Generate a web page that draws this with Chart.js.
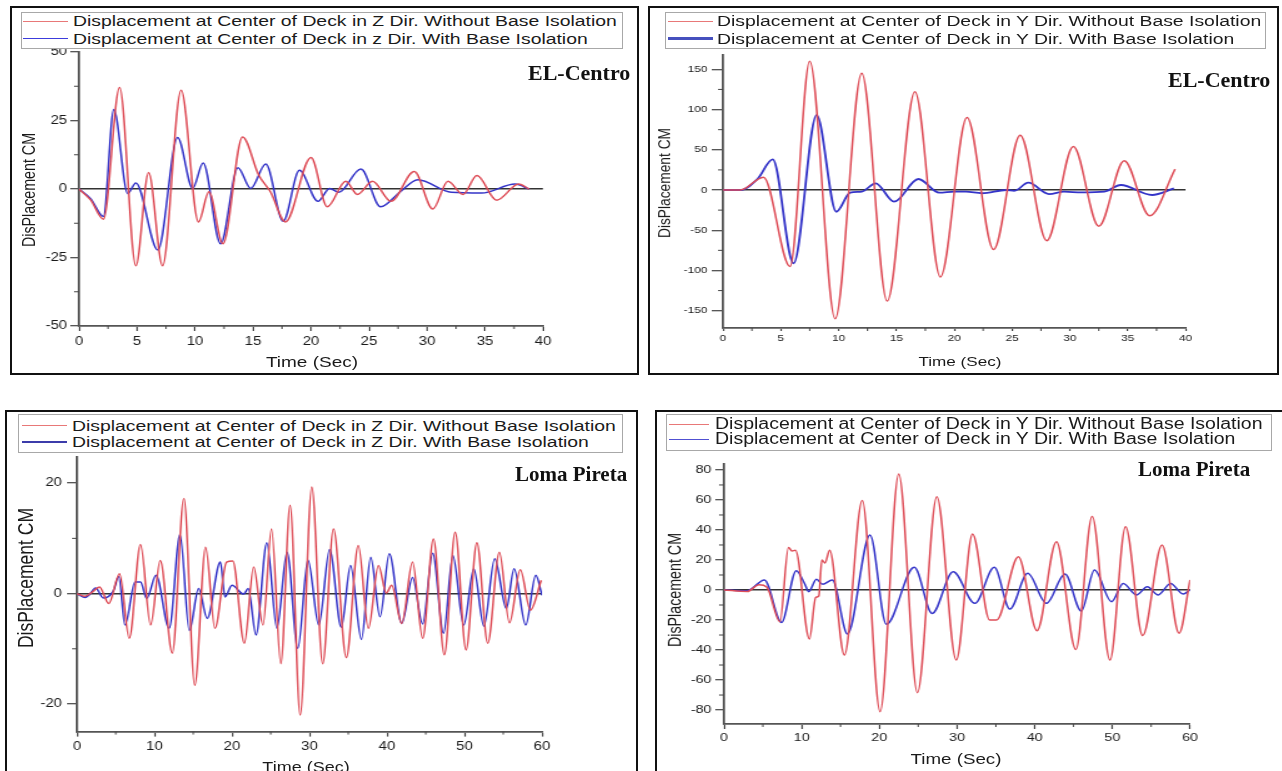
<!DOCTYPE html>
<html><head><meta charset="utf-8">
<script src="https://cdn.jsdelivr.net/npm/chart.js@4.4.1/dist/chart.umd.min.js"></script>
<style>
html,body{margin:0;padding:0;}
body{width:1282px;height:771px;background:#fff;position:relative;overflow:hidden;font-family:"Liberation Sans",Arial,sans-serif;}
.frame{position:absolute;border:2.5px solid #111;box-sizing:border-box;}
.legend{position:absolute;border:1px solid #a8a8a8;box-sizing:border-box;background:#fff;}
.ttl{position:absolute;font-family:"Liberation Serif","Times New Roman",serif;font-weight:bold;color:#111;white-space:nowrap;line-height:1;}
</style>
</head><body>
<script>
// ---------------- DATA ----------------
// Panel 1: EL-Centro, Z direction
const elZ_tWithout = [0, 1.0, 2.1, 3.5, 4.9, 6.0, 7.2, 8.8, 10.3, 11.2, 12.4, 14.1, 15.5, 16.5, 17.8, 20.0, 21.4, 23.0, 24.0, 25.3, 26.9, 28.9, 30.5, 31.8, 33.1, 34.3, 36.0, 37.9, 38.8];
const elZ_without  = [0, -4, -11, 37, -28, 6, -28, 36, -12, -1, -20, 19, 5, -1, -12, 11.5, -6.5, 2.8, -2, 2.8, -4.5, 6.4, -7.3, 2.8, -2, 4.9, -4.1, 1.8, 0];
const elZ_tWith    = [0, 1.0, 2.1, 3.0, 4.2, 4.9, 6.8, 8.5, 9.8, 10.7, 12.2, 13.7, 14.8, 16.1, 17.6, 19.0, 20.6, 21.6, 22.4, 24.3, 26.0, 27.7, 29.2, 32.1, 34.7, 37.6, 38.8];
const elZ_with     = [0, -3.5, -10, 29, -1.7, 2.2, -22.3, 18.8, 0.2, 9.5, -20, 7.8, 0.2, 9.1, -11.8, 6.8, -4.5, 0.2, -1.2, 7.3, -6.5, -1, 3.4, -1.2, -1.5, 1.8, 0];
const elZ_xTicks = [0, 5, 10, 15, 20, 25, 30, 35, 40];
const elZ_xMinor = [2.5, 7.5, 12.5, 17.5, 22.5, 27.5, 32.5, 37.5];
const elZ_yTicks = [-50, -25, 0, 25, 50];
const elZ_yMinor = [-37.5, -12.5, 12.5, 37.5];

// Panel 2: EL-Centro, Y direction
const elY_tWithout = [0, 1.5, 3.5, 5.8, 7.5, 9.7, 12.0, 14.2, 16.6, 18.8, 21.1, 23.4, 25.7, 28.0, 30.3, 32.5, 34.7, 36.9, 39.1];
const elY_without  = [0, 0, 16, -95, 160, -160, 145, -138, 122, -108, 90, -74, 68, -63, 54, -45, 36.5, -32, 26];
const elY_tWith    = [0, 1.5, 3.0, 4.3, 6.1, 8.1, 9.8, 11.0, 12.0, 13.2, 14.8, 16.9, 18.7, 20.0, 21.0, 22.4, 24.5, 25.2, 26.4, 28.2, 29.5, 31.0, 33.0, 34.4, 37.1, 39.0];
const elY_with     = [0, 0, 14, 38, -91, 93, -27, -3.3, -2, 8.3, -14.5, 13.7, -3.3, -2, -2, -4, 0, -1, 9.1, -5, -2, -3, -2, 6.2, -6.2, 2];
const elY_xTicks = [0, 5, 10, 15, 20, 25, 30, 35, 40];
const elY_xMinor = [2.5, 7.5, 12.5, 17.5, 22.5, 27.5, 32.5, 37.5];
const elY_yTicks = [-150, -100, -50, 0, 50, 100, 150];
const elY_yMinor = [-125, -75, -25, 25, 75, 125];

// Panel 3: Loma Pireta, Z direction
const lpZ_tWithout = [0, 1.0, 2.0, 2.9, 4.1, 5.5, 6.75, 8.2, 9.5, 10.75, 12.3, 13.8, 15.2, 16.6, 17.8, 19.3, 20.1, 21.6, 22.8, 24.0, 25.1, 26.3, 27.5, 28.8, 30.3, 31.7, 33.1, 34.75, 36.3, 37.6, 38.9, 39.9, 40.6, 41.9, 43.3, 44.6, 46.0, 47.4, 48.8, 50.2, 51.6, 53.0, 54.5, 55.8, 57.2, 58.5, 59.9];
const lpZ_without  = [0, -0.5, 0.3, 1.2, -1.8, 3.6, -8.1, 8.9, -5.7, 6.0, -10.8, 17.2, -16.6, 8.4, -6.3, 5.7, 5.9, -9.0, 4.8, -5.7, 11.7, -12.7, 16.0, -22.0, 19.3, -12.7, 11.7, -11.6, 8.7, -6.3, 5.1, 0.1, 1.5, -5.4, 5.7, -8.1, 9.9, -11.1, 11.1, -10.2, 9.2, -9.0, 7.5, -5.3, 4.3, -3.0, 2.4];
const lpZ_tWith    = [0, 1.0, 1.6, 2.4, 3.4, 4.7, 5.4, 6.2, 7.5, 8.2, 9.0, 10.2, 11.9, 13.3, 14.5, 15.7, 16.8, 18.5, 19.1, 20.0, 21.5, 22.1, 23.1, 24.5, 25.8, 27.1, 28.5, 29.8, 31.2, 32.6, 34.1, 35.3, 36.7, 37.9, 39.1, 40.3, 41.9, 43.3, 44.6, 45.9, 47.3, 48.5, 49.9, 51.2, 52.5, 53.9, 55.4, 56.4, 57.9, 59.2, 60];
const lpZ_with     = [0, -0.7, -0.2, 1.0, -0.8, 0.5, 3.1, -5.7, 2.1, 2.1, -0.9, 3.3, -6.3, 10.7, -6.7, 0.9, -4.5, 5.7, -0.6, 1.5, -0.1, 0.9, -7.5, 9.2, -6.3, 7.5, -9.9, 6.1, -5.7, 8.0, -6.1, 5.1, -8.3, 6.6, -4.2, 7.2, -5.4, 2.9, -5.5, 7.3, -7.2, 6.9, -5.7, 4.5, -5.9, 6.3, -2.7, 4.5, -5.7, 3.3, -0.3];
const lpZ_xTicks = [0, 10, 20, 30, 40, 50, 60];
const lpZ_xMinor = [5, 15, 25, 35, 45, 55];
const lpZ_yTicks = [-20, 0, 20];
const lpZ_yMinor = [-10, 10];

// Panel 4: Loma Pireta, Y direction
const lpY_tWithout = [0, 3.0, 4.5, 5.5, 7.2, 8.3, 8.75, 9.2, 11.0, 11.8, 12.2, 12.6, 13.0, 13.6, 15.5, 17.8, 20.1, 22.5, 24.9, 27.4, 29.9, 32.0, 34.2, 35.1, 37.9, 40.3, 42.8, 45.3, 47.4, 49.7, 51.7, 53.9, 56.4, 58.6, 60];
const lpY_without  = [0, -1, 3.5, 2, -21.1, 28.4, 26, 26.5, -32.7, -5, -4, 20, 18, 26.5, -43.3, 59.6, -81.1, 77.3, -68.4, 62.2, -46.7, 37.3, -20, -20, 22.2, -27.1, 32.2, -39.6, 48.9, -46.7, 42.2, -30.4, 30, -28.9, 6.7];
const lpY_tWith    = [0, 3.0, 5.2, 7.4, 9.3, 10.4, 10.9, 11.9, 12.7, 13.95, 15.9, 18.8, 20.9, 24.5, 26.8, 29.5, 32.3, 34.8, 36.8, 39.1, 41.5, 43.9, 46.0, 47.7, 49.9, 51.4, 53.1, 54.5, 55.9, 57.5, 59.1, 60];
const lpY_with     = [0, -0.5, 6.7, -21.6, 12.9, 4, -1.1, 7.1, 3.8, 6.7, -29.3, 36.7, -22.9, 15.1, -15.6, 12.2, -8.9, 15.1, -12.7, 11.1, -8.9, 10.7, -14, 13.3, -7.8, 4.4, -3.3, 2.2, -3.3, 4.4, -2.7, 0];
const lpY_xTicks = [0, 10, 20, 30, 40, 50, 60];
const lpY_xMinor = [5, 15, 25, 35, 45, 55];
const lpY_yTicks = [-80, -60, -40, -20, 0, 20, 40, 60, 80];
const lpY_yMinor = [-70, -50, -30, -10, 10, 30, 50, 70];

// Texts
const legendZ1 = ["Displacement at Center of Deck in Z Dir. Without Base Isolation", "Displacement at Center of Deck in z Dir. With Base Isolation"];
const legendY1 = ["Displacement at Center of Deck in Y Dir. Without Base Isolation", "Displacement at Center of Deck in Y Dir. With Base Isolation"];
const legendZ2 = ["Displacement at Center of Deck in Z Dir. Without Base Isolation", "Displacement at Center of Deck in Z Dir. With Base Isolation"];
const legendY2 = ["Displacement at Center of Deck in Y Dir. Without Base Isolation", "Displacement at Center of Deck in Y Dir. With Base Isolation"];
const yTitle = "DisPlacement CM";
const xTitle = "Time (Sec)";

// ---------------- RENDER ----------------
const S = 1.25; // horizontal stretch of the original figure
const FONT = '"Liberation Sans", Arial, Helvetica, sans-serif';
const RED = 'rgb(222,78,88)';
const BLUE = 'rgb(52,52,200)';
Chart.defaults.font.family = FONT;

const pts = (t, v) => t.map((x, i) => ({x: x, y: v[i]}));

const minorTicks = {
  id: 'minorTicks',
  afterDraw(chart, args, opts) {
    const ctx = chart.ctx, xs = chart.scales.x, ys = chart.scales.y;
    ctx.save();
    ctx.strokeStyle = '#444';
    ctx.lineWidth = 1;
    ctx.beginPath();
    (opts.x || []).forEach(v => { const p = xs.getPixelForValue(v); ctx.moveTo(p, xs.top); ctx.lineTo(p, xs.top + (opts.xl || 3)); });
    (opts.y || []).forEach(v => { const p = ys.getPixelForValue(v); ctx.moveTo(ys.right, p); ctx.lineTo(ys.right - (opts.yl || 4), p); });
    ctx.stroke();
    ctx.restore();
  }
};

function makePanel(p) {
  const yw = 40, xh = 28, pt = 10;
  const CL = p.L - yw * S;
  const plotW = (p.R - p.L) / S;
  const CW = Math.ceil(plotW + yw + 18);
  const pr = CW - yw - plotW;
  const CT = Math.floor(p.T - pt);
  const ptop = p.T - CT;
  const CH = Math.ceil(p.B - p.T + ptop + xh);
  const pb = CH - (p.B - CT) - xh;
  const c = document.createElement('canvas');
  c.width = CW; c.height = CH;
  c.style.cssText = `position:absolute;left:${CL}px;top:${CT}px;width:${CW}px;height:${CH}px;transform:scaleX(${S});transform-origin:0 0;`;
  document.body.appendChild(c);
  new Chart(c, {
    type: 'line',
    data: { datasets: [
      { data: pts(p.tA, p.vA), borderColor: RED, borderWidth: 1.5, pointRadius: 0, cubicInterpolationMode: 'monotone', fill: false },
      { data: pts(p.tB, p.vB), borderColor: BLUE, borderWidth: p.blueW || 1.5, pointRadius: 0, cubicInterpolationMode: 'monotone', fill: false }
    ]},
    options: {
      responsive: false, animation: false, devicePixelRatio: 1,
      layout: { padding: { left: 0, right: pr, top: ptop, bottom: pb } },
      plugins: { legend: { display: false }, tooltip: { enabled: false },
                 minorTicks: { x: p.xMinor, y: p.yMinor, xl: 3, yl: 4 } },
      scales: {
        x: { type: 'linear', min: p.xMin, max: p.xMax,
             afterBuildTicks: s => { s.ticks = p.xTicks.map(v => ({value: v})); },
             afterFit: s => { s.height = xh; },
             ticks: { autoSkip: false, maxRotation: 0, padding: p.xPad, color: '#1a1a1a', font: { size: p.fs } },
             grid: { drawOnChartArea: false, drawTicks: true, tickLength: p.xTl, tickColor: '#444', tickWidth: 1.2 },
             border: { display: true, color: '#555', width: 1.8 } },
        y: { type: 'linear', min: p.yMin, max: p.yMax,
             afterBuildTicks: s => { s.ticks = p.yTicks.map(v => ({value: v})); },
             afterFit: s => { s.width = yw; },
             ticks: { autoSkip: false, padding: p.yPad, color: '#1a1a1a', font: { size: p.fs } },
             grid: { drawOnChartArea: true, color: ctx => (ctx.tick && ctx.tick.value === 0) ? '#333' : 'rgba(0,0,0,0)',
                     lineWidth: 1.4, drawTicks: true, tickLength: p.yTl, tickColor: '#444', tickWidth: 1.2 },
             border: { display: true, color: '#555', width: 1.8 } }
      }
    },
    plugins: [minorTicks]
  });
}

function addFrame(l, t, r, b) {
  const d = document.createElement('div'); d.className = 'frame';
  d.style.left = l + 'px'; d.style.top = t + 'px'; d.style.width = (r - l) + 'px'; d.style.height = (b - t) + 'px';
  document.body.appendChild(d);
}
function addText(txt, x, y, size, mode, extra) {
  const a = document.createElement('div');
  a.style.cssText = `position:absolute;left:${x}px;top:${y}px;width:0;height:0;`;
  const s = document.createElement('span'); s.textContent = txt;
  let tr;
  if (mode === 'left') tr = `scaleX(${S}) translateY(-50%)`;
  else if (mode === 'center') tr = `scaleX(${S}) translate(-50%,-50%)`;
  else tr = `scaleX(${S}) rotate(-90deg) translate(-50%,-50%)`;
  s.style.cssText = `position:absolute;left:0;top:0;white-space:nowrap;line-height:1;color:#1a1a1a;font-size:${size}px;transform-origin:0 0;transform:${tr};${extra || ''}`;
  a.appendChild(s); document.body.appendChild(a);
}
function addLegend(box, rows, lineX, textX, texts, fs, styles) {
  const d = document.createElement('div'); d.className = 'legend';
  d.style.left = box[0] + 'px'; d.style.top = box[1] + 'px'; d.style.width = (box[2] - box[0]) + 'px'; d.style.height = (box[3] - box[1]) + 'px';
  document.body.appendChild(d);
  rows.forEach((ry, i) => {
    const ln = document.createElement('div');
    const w = styles[i].w;
    ln.style.cssText = `position:absolute;left:${lineX[0]}px;top:${ry - w / 2}px;width:${lineX[1] - lineX[0]}px;height:${w}px;background:${styles[i].c};`;
    document.body.appendChild(ln);
    addText(texts[i], textX, ry, fs, 'left');
  });
}
function addTitle(txt, left, baseline, size) {
  const d = document.createElement('div'); d.className = 'ttl'; d.textContent = txt;
  d.style.fontSize = size + 'px'; d.style.left = left + 'px'; d.style.top = (baseline - 0.8375 * size) + 'px';
  document.body.appendChild(d);
}

// Panels (chart-area corners in page pixels)
makePanel({ L: 79, R: 543, T: 52, B: 326, xMin: 0, xMax: 40, yMin: -50, yMax: 50,
  xTicks: elZ_xTicks, xMinor: elZ_xMinor, yTicks: elZ_yTicks, yMinor: elZ_yMinor,
  tA: elZ_tWithout, vA: elZ_without, tB: elZ_tWith, vB: elZ_with,
  fs: 12, xTl: 5, xPad: 3, yTl: 7, yPad: 2.5 });
makePanel({ L: 722.5, R: 1185, T: 55, B: 328, xMin: 0, xMax: 40, yMin: -171.5, yMax: 167.8,
  xTicks: elY_xTicks, xMinor: elY_xMinor, yTicks: elY_yTicks, yMinor: elY_yMinor,
  tA: elY_tWithout, vA: elY_without, tB: elY_tWith, vB: elY_with, blueW: 1.8,
  fs: 9.5, xTl: 3, xPad: 1.5, yTl: 9, yPad: 3.5 });
makePanel({ L: 76.7, R: 541.7, T: 456.7, B: 731.6, xMin: 0, xMax: 60, yMin: -25, yMax: 24.7,
  xTicks: lpZ_xTicks, xMinor: lpZ_xMinor, yTicks: lpZ_yTicks, yMinor: lpZ_yMinor,
  tA: lpZ_tWithout, vA: lpZ_without, tB: lpZ_tWith, vB: lpZ_with,
  fs: 12, xTl: 5, xPad: 2.5, yTl: 8, yPad: 4 });
makePanel({ L: 724.3, R: 1190.3, T: 463.5, B: 724, xMin: 0, xMax: 60, yMin: -89.3, yMax: 84.3,
  xTicks: lpY_xTicks, xMinor: lpY_xMinor, yTicks: lpY_yTicks, yMinor: lpY_yMinor,
  tA: lpY_tWithout, vA: lpY_without, tB: lpY_tWith, vB: lpY_with,
  fs: 11.5, xTl: 5, xPad: 2, yTl: 7, yPad: 3 });

// Frames
addFrame(10, 6, 639, 375);
addFrame(648, 6, 1279, 375);
addFrame(5, 410, 638, 790);
addFrame(655, 410, 1295, 790);

// Legends
const redL = 'rgb(232,120,120)';
addLegend([20.7, 12.3, 623.3, 49.3], [21, 38.5], [23, 68], 73, legendZ1, 15.5, [{c: redL, w: 1}, {c: 'rgb(60,60,220)', w: 1.6}]);
addLegend([665, 12.3, 1266, 49.3], [21, 38.5], [668, 713], 717, legendY1, 15.5, [{c: redL, w: 1}, {c: 'rgb(70,80,190)', w: 3}]);
addLegend([18.3, 414, 622.7, 452.7], [425.5, 442], [21.7, 66.7], 71.7, legendZ2, 15.5, [{c: redL, w: 1}, {c: 'rgb(60,60,170)', w: 2}]);
addLegend([666, 414, 1271.7, 450.7], [424, 439], [669, 709], 715, legendY2, 15.6, [{c: redL, w: 1}, {c: 'rgb(80,80,210)', w: 1}]);

// Axis titles
addText(yTitle, 28.5, 190, 14.25, 'rot');
addText(yTitle, 665, 183, 13.75, 'rot');
addText(yTitle, 26, 578, 17.5, 'rot');
addText(yTitle, 675, 590, 14.25, 'rot');
addText(xTitle, 311.5, 362, 15.2, 'center');
addText(xTitle, 960, 362, 13.7, 'center');
addText(xTitle, 306, 767, 14.4, 'center');
addText(xTitle, 956, 758, 15, 'center');

// Earthquake names
addTitle('EL-Centro', 528, 80.7, 22);
addTitle('EL-Centro', 1168, 87.3, 22);
addTitle('Loma Pireta', 515, 482, 21);
addTitle('Loma Pireta', 1138, 477, 21);
</script>
</body></html>
